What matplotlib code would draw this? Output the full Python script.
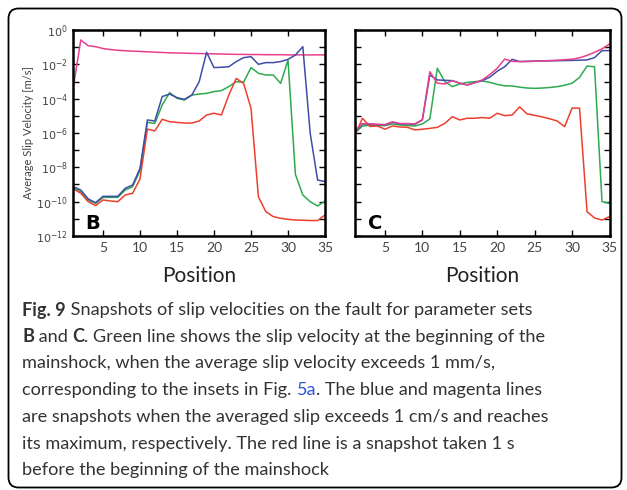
import numpy as np
import matplotlib
matplotlib.use('Agg')
import matplotlib.pyplot as plt
from matplotlib.patches import FancyBboxPatch

# positions along the fault
position = np.arange(1, 36)

# panel B, log10 of average slip velocity [m/s]
b_magenta = [-3.3, -0.58, -0.92, -0.97, -1.08, -1.14, -1.18, -1.21, -1.23, -1.25,
             -1.27, -1.29, -1.31, -1.33, -1.34, -1.35, -1.36, -1.37, -1.38, -1.39,
             -1.40, -1.41, -1.42, -1.42, -1.43, -1.43, -1.44, -1.44, -1.44, -1.45,
             -1.45, -1.45, -1.45, -1.45, -1.45]
b_blue = [-9.13, -9.32, -9.84, -10.06, -9.69, -9.69, -9.69, -9.22, -9.03, -8.06,
          -5.24, -5.30, -3.88, -3.73, -3.94, -4.04, -3.79, -3.01, -1.30, -2.19,
          -2.17, -2.14, -1.84, -1.61, -1.55, -2.0, -1.90, -1.90, -1.84, -1.71,
          -1.46, -0.97, -6.02, -8.74, -8.83]
b_green = [-9.18, -9.42, -9.90, -10.10, -9.75, -9.75, -9.75, -9.32, -9.13, -8.19,
           -5.38, -5.44, -4.37, -3.65, -3.98, -4.08, -3.79, -3.73, -3.69, -3.59,
           -3.53, -3.30, -3.01, -3.04, -2.19, -2.52, -2.62, -2.62, -3.11, -1.75,
           -8.41, -9.61, -10.0, -10.25, -9.96]
b_red = [-9.26, -9.51, -10.0, -10.23, -9.90, -9.96, -10.0, -9.61, -9.51, -8.68,
         -5.77, -5.88, -5.20, -5.34, -5.38, -5.42, -5.42, -5.30, -4.95, -4.85,
         -4.95, -3.79, -2.82, -3.11, -4.56, -9.71, -10.58, -10.87, -10.97, -11.03,
         -11.07, -11.08, -11.1, -11.1, -10.78]

# panel C
c_magenta = [-5.85, -5.45, -5.47, -5.49, -5.51, -5.35, -5.45, -5.45, -5.47, -5.22,
             -2.43, -3.1, -3.14, -2.95, -3.1, -3.2, -3.07, -2.91, -2.6, -2.23,
             -1.69, -1.83, -1.84, -1.84, -1.82, -1.80, -1.78, -1.76, -1.73, -1.70,
             -1.62, -1.48, -1.30, -1.10, -0.82]
c_blue = [-5.92, -5.47, -5.49, -5.51, -5.53, -5.37, -5.47, -5.47, -5.49, -5.24,
          -2.62, -2.91, -2.93, -2.95, -3.1, -3.2, -3.07, -2.95, -2.75, -2.4,
          -2.14, -1.71, -1.84, -1.82, -1.81, -1.80, -1.80, -1.79, -1.78, -1.77,
          -1.76, -1.74, -1.61, -1.20, -1.20]
c_green = [-6.0, -5.59, -5.55, -5.55, -5.57, -5.47, -5.53, -5.57, -5.59, -5.47,
           -5.18, -2.23, -3.01, -3.3, -3.14, -3.05, -3.01, -2.97, -3.05, -3.17,
           -3.25, -3.26, -3.33, -3.38, -3.40, -3.38, -3.35, -3.30, -3.22, -3.10,
           -2.76, -2.10, -2.14, -10.0, -10.1]
c_red = [-6.12, -5.14, -5.62, -5.59, -5.78, -5.59, -5.65, -5.67, -5.82, -5.78,
         -5.73, -5.67, -5.44, -5.05, -5.24, -5.14, -5.14, -5.10, -5.14, -4.85,
         -4.99, -4.95, -4.48, -4.89, -4.97, -5.06, -5.17, -5.30, -5.63, -4.55,
         -4.55, -10.58, -10.95, -11.07, -10.87]

xticks = [5, 10, 15, 20, 25, 30, 35]
decades = list(range(0, -13, -1))

col_g = '#2eaa4f'
col_b = '#3f4da8'
col_m = '#e8408c'
col_r = '#ee3f2e'

cap_font = ['Lato', 'DejaVu Sans']
txt_col = '#333333'

W, H = 627, 490
fig = plt.figure(figsize=(W / 100, H / 100), dpi=100)

# background axes in pixel coords for the caption box
bg = fig.add_axes([0, 0, 1, 1], zorder=-1)
bg.set_xlim(0, W)
bg.set_ylim(H, 0)
bg.axis('off')
bg.add_patch(FancyBboxPatch((8.5, 8.5), 613, 479, boxstyle='round,pad=0,rounding_size=10',
                            fc='white', ec='black', lw=1.3))


def panel(rect, series, letter, lx, ylabels):
    ax = fig.add_axes(rect)
    for vals, c in series:
        ax.plot(position, 10.0 ** np.array(vals), color=c, lw=1.1)
    ax.set_yscale('log')
    ax.set_xlim(1, 35)
    ax.set_ylim(1e-12, 1)
    ax.set_xticks(xticks)
    ax.set_xticklabels([str(t) for t in xticks], fontsize=10, color='#444444', family='Lato')
    ax.set_yticks([10.0 ** d for d in decades])
    ax.minorticks_off()
    if ylabels:
        ax.set_yticklabels([r'$10^{%d}$' % d if d % 2 == 0 else '' for d in decades],
                           fontsize=8, color='#444444')
    else:
        ax.set_yticklabels([])
    ax.tick_params(direction='in', top=True, right=True, length=4, width=1, pad=4)
    for s in ax.spines.values():
        s.set_linewidth(1.8)
    ax.set_xlabel('Position', fontsize=15, color='#222222', family='Lato', labelpad=9)
    ax.text(lx, 0.034, letter, transform=ax.transAxes, fontsize=14, fontweight='bold',
            family='DejaVu Sans', va='baseline', ha='left')
    return ax


top, bot = 30, 236
axB = panel([73.4 / W, (H - bot) / H, (325 - 73.4) / W, (bot - top) / H],
            [(b_magenta, col_m), (b_green, col_g), (b_red, col_r), (b_blue, col_b)], 'B', 0.046, True)
axB.set_ylabel('Average Slip Velocity [m/s]', fontsize=8, color='#444444', family=cap_font, labelpad=1)
axC = panel([355 / W, (H - bot) / H, (609.5 - 355) / W, (bot - top) / H],
            [(c_green, col_g), (c_red, col_r), (c_blue, col_b), (c_magenta, col_m)], 'C', 0.05, False)

# caption
lines = [
    [('Fig. 9', 'bold', txt_col), (' Snapshots of slip velocities on the fault for parameter sets', 'normal', txt_col)],
    [('B', 'bold', txt_col), (' and ', 'normal', txt_col), ('C', 'bold', txt_col),
     ('. Green line shows the slip velocity at the beginning of the', 'normal', txt_col)],
    [('mainshock, when the average slip velocity exceeds 1 mm/s,', 'normal', txt_col)],
    [('corresponding to the insets in Fig. ', 'normal', txt_col), ('5a', 'normal', '#2a55d6'),
     ('. The blue and magenta lines', 'normal', txt_col)],
    [('are snapshots when the averaged slip exceeds 1 cm/s and reaches', 'normal', txt_col)],
    [('its maximum, respectively. The red line is a snapshot taken 1 s', 'normal', txt_col)],
    [('before the beginning of the mainshock', 'normal', txt_col)],
]

renderer = fig.canvas.get_renderer()
probe = bg.text(0, 0, 'are snapshots when the averaged slip exceeds 1 cm/s and reaches',
                fontsize=10, family=cap_font)
pw = probe.get_window_extent(renderer=renderer).width
probe.remove()
cap_size = 1.1 * 10 * (500 - 22) / pw

y0, dy = 310, 26.7
for i, runs in enumerate(lines):
    x = 22
    for txt, wgt, c in runs:
        t = bg.text(x, y0 + i * dy, txt, fontsize=cap_size, fontweight=wgt, color=c,
                    family=cap_font, ha='left', va='center')
        x += t.get_window_extent(renderer=renderer).width

fig.savefig('out.png', dpi=100)
